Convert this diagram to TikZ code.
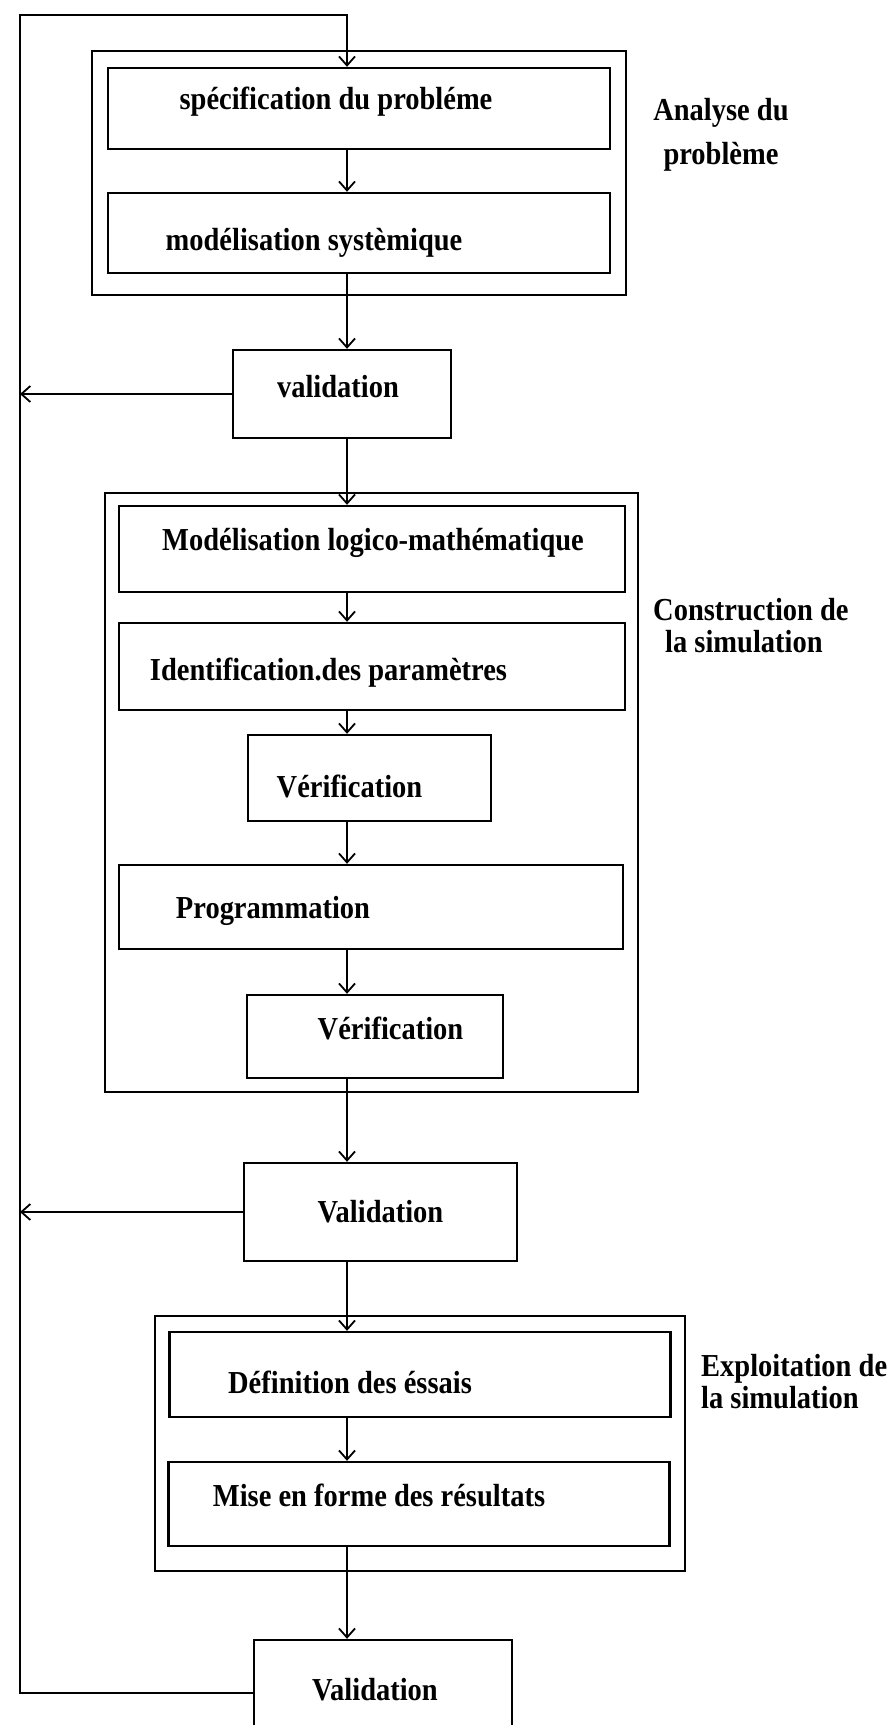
\documentclass[tikz,border=0pt]{standalone}
\usepackage{fontspec}
\setmainfont{Liberation Serif}[FakeStretch=0.89]
\usetikzlibrary{shapes,arrows.meta,positioning,calc}

\tikzset{
  boite/.style={draw, line width=2.4pt, inner sep=0pt},
  cadre/.style={draw, line width=2pt, inner sep=0pt},
  texte/.style={font=\fontsize{32}{32}\selectfont\bfseries, inner sep=0pt},
  fleche/.style={line width=1.8pt, -{Straight Barb[length=9pt,width=16pt]}},
}

\begin{document}
\begin{tikzpicture}[x=1pt,y=-1pt]
            \useasboundingbox (0,0) rectangle (896,1725);
            \clip (0,0) rectangle (896,1725);
            \coordinate (axe) at (347,0);
            \coordinate (retour) at (20,15);

            % Analyse du probleme
            \node[cadre, minimum width=534, minimum height=244] (cadreA) at (359,173) {};
            \node[boite, minimum width=502, minimum height=81] (spec) at (359,108.5) {};
            \node[texte] (tspec) at ($(spec.center)+(-23,-7)$) {spécification du probléme};
            \node[boite, minimum width=502, minimum height=80] (model) at (359,233) {};
            \node[texte] (tmodel) at ($(model.center)+(-45,10)$) {modélisation systèmique};
            \node[texte, align=center] (lblA) at (721,135) {Analyse du\\[12pt]problème};

            % validation
            \node[boite, minimum width=218, minimum height=88] (val1) at (342,394) {};
            \node[texte] (tval1) at ($(val1.center)+(-4,-7)$) {validation};

            % Construction de la simulation
            \node[cadre, minimum width=533, minimum height=599] (cadreC) at (371.5,792.5) {};
            \node[boite, minimum width=506, minimum height=86] (modLM) at (372,549) {};
            \node[texte] (tmodLM) at ($(modLM.center)+(1,-6)$) {Modélisation logico-mathématique};
            \node[boite, minimum width=506, minimum height=87] (ident) at (372,666.5) {};
            \node[texte] (tident) at ($(ident.center)+(-43.5,6)$) {Identification.des paramètres};
            \node[boite, minimum width=243, minimum height=86] (verif1) at (369.5,778) {};
            \node[texte] (tverif1) at ($(verif1.center)+(-20,8)$) {Vérification};
            \node[boite, minimum width=504, minimum height=84] (prog) at (371,907) {};
            \node[texte] (tprog) at ($(prog.center)+(-98,4)$) {Programmation};
            \node[boite, minimum width=256, minimum height=83] (verif2) at (375,1036.5) {};
            \node[texte] (tverif2) at ($(verif2.center)+(15.5,-8.5)$) {Vérification};
            \node[texte, anchor=west, align=left] (lblC) at (653,626) {Construction de\\\hspace*{12pt}la simulation};

            % Validation
            \node[boite, minimum width=273, minimum height=98] (val2) at (380.5,1212) {};
            \node[texte] (tval2) at (val2.center) {Validation};

            % Exploitation de la simulation
            \node[cadre, minimum width=530, minimum height=255] (cadreE) at (420,1443.5) {};
            \node[boite, minimum width=501, minimum height=85] (def) at (420,1374.5) {};
            \node[texte] (tdef) at ($(def.center)+(-70,7.5)$) {Définition des éssais};
            \node[boite, minimum width=501, minimum height=84] (mise) at (419,1504) {};
            \node[texte] (tmise) at ($(mise.center)+(-40,-9)$) {Mise en forme des résultats};
            \node[texte, anchor=west, align=left] (lblE) at (701,1382) {Exploitation de\\la simulation};

            % Validation
            \node[boite, minimum width=258, minimum height=106] (val3) at (383,1693) {};
            \node[texte] (tval3) at ($(val3.center)+(-8,-3)$) {Validation};

            % Fleches
            \draw[fleche] (spec.south -| axe) -- (model.north -| axe);
            \draw[fleche] (model.south -| axe) -- (val1.north -| axe);
            \draw[fleche] (val1.south -| axe) -- (modLM.north -| axe);
            \draw[fleche] (modLM.south -| axe) -- (ident.north -| axe);
            \draw[fleche] (ident.south -| axe) -- (verif1.north -| axe);
            \draw[fleche] (verif1.south -| axe) -- (prog.north -| axe);
            \draw[fleche] (prog.south -| axe) -- (verif2.north -| axe);
            \draw[fleche] (verif2.south -| axe) -- (val2.north -| axe);
            \draw[fleche] (val2.south -| axe) -- (def.north -| axe);
            \draw[fleche] (def.south -| axe) -- (mise.north -| axe);
            \draw[fleche] (mise.south -| axe) -- (val3.north -| axe);

            % Retours
            \draw[fleche] (val1.west) -- (val1.west -| retour);
            \draw[fleche] (val2.west) -- (val2.west -| retour);
            \draw[fleche] (val3.west) -| (retour) -| (spec.north -| axe);
        \end{tikzpicture}
\end{document}
